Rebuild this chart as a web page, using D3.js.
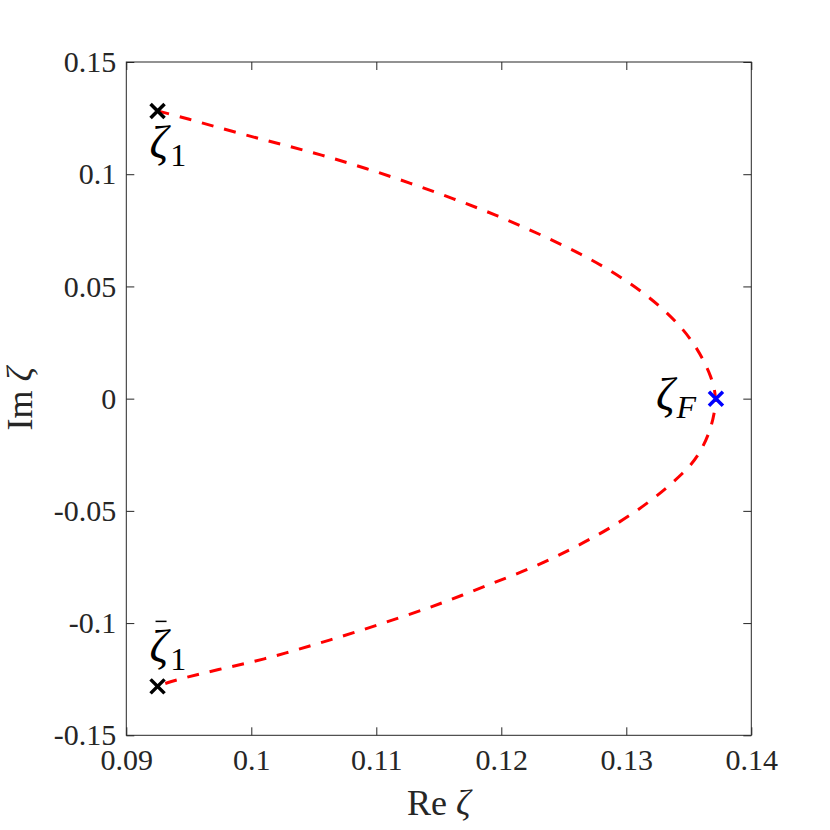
<!DOCTYPE html>
<html>
<head>
<meta charset="utf-8">
<script src="https://d3js.org/d3.v7.min.js"></script>
<style>
  body { margin: 0; background: #fff; }
  text { font-family: "Liberation Serif", "Times New Roman", serif; fill: #262626; }
</style>
</head>
<body>
<script>
// curve: upper branch (zeta_1 -> zeta_F), then lower branch
const upperRe = [0.09250, 0.09481, 0.09848, 0.10209, 0.10562, 0.10916, 0.11274, 0.11626, 0.11976, 0.12318, 0.12655, 0.12977, 0.13283, 0.13537, 0.13696, 0.13717];
const upperIm = [0.1282, 0.1249, 0.1190, 0.1138, 0.1086, 0.1027, 0.0960, 0.0889, 0.0815, 0.0730, 0.0641, 0.0537, 0.0411, 0.0263, 0.0085, 0.0000];
const lowerRe = [0.13706, 0.13666, 0.13583, 0.13476, 0.13200, 0.12879, 0.12558, 0.12221, 0.11869, 0.11541, 0.11189, 0.10822, 0.10470, 0.10102, 0.09741, 0.09364, 0.09250];
const lowerIm = [-0.0064, -0.0153, -0.0249, -0.0324, -0.0457, -0.0576, -0.0672, -0.0761, -0.0835, -0.0909, -0.0976, -0.1043, -0.1102, -0.1162, -0.1206, -0.1257, -0.1282];

// marked points
const pointNames = ["zeta1", "zeta1bar", "zetaF"];
const pointRe = [0.0925, 0.0925, 0.13717];
const pointIm = [0.1282, -0.1282, 0.0];
const pointColor = ["#000000", "#000000", "#0000ff"];

// ticks
const xTicks = [0.09, 0.1, 0.11, 0.12, 0.13, 0.14];
const xTickLabels = ["0.09", "0.1", "0.11", "0.12", "0.13", "0.14"];
const yTicks = [0.15, 0.1, 0.05, 0, -0.05, -0.1, -0.15];
const yTickLabels = ["0.15", "0.1", "0.05", "0", "-0.05", "-0.1", "-0.15"];

const width = 830, height = 830;
const mLeft = 126.3, mRight = 751.3, mTop = 62, mBottom = 735.3;
const serif = '"Liberation Serif", "Times New Roman", serif';

const svg = d3.select("body").append("svg")
  .attr("width", width)
  .attr("height", height);

const x = d3.scaleLinear().domain([0.09, 0.14]).range([mLeft, mRight]);
const y = d3.scaleLinear().domain([-0.15, 0.15]).range([mBottom, mTop]);

// axes, ticks pointing inward
const tickLen = 8;
function styleAxis(g) {
  g.attr("font-family", null).attr("font-size", null);
  g.select(".domain").remove();
  g.selectAll(".tick line").attr("stroke", "#262626").attr("stroke-width", 1);
  g.selectAll(".tick text")
    .style("font-family", serif)
    .style("font-size", "30px")
    .style("fill", "#262626");
}

svg.append("g")
  .attr("transform", `translate(0,${mBottom})`)
  .call(d3.axisBottom(x).tickValues(xTicks).tickSize(-tickLen).tickPadding(13)
    .tickFormat((d, i) => xTickLabels[i]))
  .call(styleAxis);

svg.append("g")
  .attr("transform", `translate(0,${mTop})`)
  .call(d3.axisTop(x).tickValues(xTicks).tickSize(-tickLen).tickFormat(""))
  .call(styleAxis);

svg.append("g")
  .attr("transform", `translate(${mLeft},0)`)
  .call(d3.axisLeft(y).tickValues(yTicks).tickSize(-tickLen).tickPadding(10)
    .tickFormat((d, i) => yTickLabels[i]))
  .call(styleAxis);

svg.append("g")
  .attr("transform", `translate(${mRight},0)`)
  .call(d3.axisRight(y).tickValues(yTicks).tickSize(-tickLen).tickFormat(""))
  .call(styleAxis);

// box
svg.append("rect")
  .attr("x", mLeft).attr("y", mTop)
  .attr("width", mRight - mLeft).attr("height", mBottom - mTop)
  .attr("fill", "none")
  .attr("stroke", "#262626")
  .attr("stroke-width", 1);

// curve
const curve = upperRe.map((d, i) => [d, upperIm[i]])
  .concat(lowerRe.map((d, i) => [d, lowerIm[i]]));

const line = d3.line()
  .x(d => x(d[0]))
  .y(d => y(d[1]))
  .curve(d3.curveBasis);

svg.append("path")
  .datum(curve)
  .attr("d", line)
  .attr("fill", "none")
  .attr("stroke", "#ff0000")
  .attr("stroke-width", 3)
  .attr("stroke-dasharray", "12,11");

// x markers
const ms = 7;
const marks = svg.selectAll("g.mark")
  .data(pointNames)
  .enter().append("g")
  .attr("class", "mark")
  .attr("transform", (d, i) => `translate(${x(pointRe[i])},${y(pointIm[i])})`);
marks.append("path")
  .attr("d", `M${-ms},${-ms}L${ms},${ms}M${-ms},${ms}L${ms},${-ms}`)
  .attr("stroke", (d, i) => pointColor[i])
  .attr("stroke-width", 3.5)
  .attr("fill", "none");

// point labels
function zetaLabel(i, dx, dy, sub, subItalic) {
  const t = svg.append("text")
    .attr("x", x(pointRe[i]) + dx)
    .attr("y", y(pointIm[i]) + dy)
    .style("fill", "#000");
  t.append("tspan").text("ζ").style("font-size", "46px").style("font-style", "italic");
  t.append("tspan").text(sub).style("font-size", "32px")
    .style("font-style", subItalic ? "italic" : "normal")
    .attr("dx", 2).attr("dy", 8);
  return t;
}
zetaLabel(0, -8, 47, "1", false);
zetaLabel(1, -8, -24, "1", false);
zetaLabel(2, -60, 11, "F", true);

// bar over the conjugate
svg.append("line")
  .attr("x1", x(pointRe[1]) - 2).attr("x2", x(pointRe[1]) + 9)
  .attr("y1", y(pointIm[1]) - 65).attr("y2", y(pointIm[1]) - 65)
  .attr("stroke", "#000").attr("stroke-width", 1.5);

// axis labels
const xl = svg.append("text")
  .attr("x", (mLeft + mRight) / 2)
  .attr("y", 815)
  .attr("text-anchor", "middle")
  .style("font-size", "36px");
xl.append("tspan").text("Re ");
xl.append("tspan").text("ζ").style("font-style", "italic");

const yl = svg.append("text")
  .attr("transform", `translate(32,${(mTop + mBottom) / 2}) rotate(-90)`)
  .attr("text-anchor", "middle")
  .style("font-size", "36px");
yl.append("tspan").text("Im ");
yl.append("tspan").text("ζ").style("font-style", "italic");
</script>
</body>
</html>
